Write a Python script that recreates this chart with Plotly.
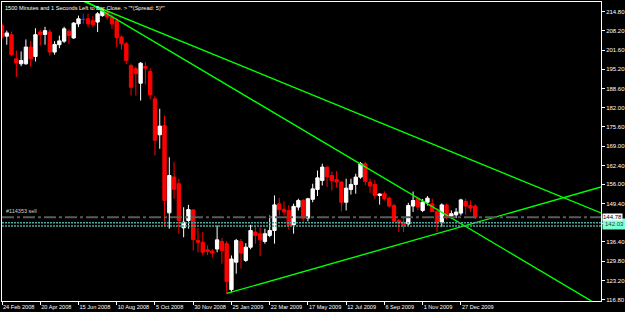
import pandas as pd
import plotly.graph_objects as go

# ---------------- data ----------------
start_week = "2008-02-24"
n_bars = 100
dates = pd.date_range(start_week, periods=n_bars, freq="7D")

opens = [210.0, 206.4, 206.9, 198.7, 197.0, 197.0, 202.7, 199.5, 207.8, 207.0,
         207.8, 201.0, 203.5, 204.7, 208.1, 205.8, 210.6, 212.1, 212.3, 211.7,
         211.2, 213.4, 214.6, 212.9, 211.6, 206.1, 203.8, 196.4, 195.3, 190.4,
         196.1, 194.4, 185.1, 172.85, 176.0, 146.3, 158.5, 156.2, 141.2, 143.7,
         147.3, 136.9, 136.3, 133.7, 133.3, 134.0, 136.55, 135.8, 120.2, 129.5,
         136.55, 130.1, 134.6, 139.75, 139.2, 136.55, 138.6, 140.3, 149.4, 147.5,
         147.1, 142.2, 148.25, 150.5, 144.5, 150.9, 154.25, 157.3, 161.85, 159.0,
         157.65, 156.75, 149.9, 154.25, 155.95, 158.45, 163.0, 156.75, 155.95, 152.2,
         152.8, 151.3, 148.8, 143.7, 143.15, 142.55, 148.6, 151.1, 147.1, 149.9,
         149.35, 146.75, 143.15, 149.0, 145.2, 145.6, 146.2, 150.2, 148.8, 148.6]
highs = [210.8, 208.3, 208.0, 201.5, 201.2, 205.3, 204.8, 209.1, 208.7, 209.6,
         208.7, 204.7, 206.6, 209.6, 208.8, 211.2, 213.4, 214.0, 214.0, 213.2,
         214.6, 215.7, 215.7, 214.0, 212.7, 206.6, 204.5, 197.0, 196.0, 197.6,
         197.6, 195.5, 186.0, 181.7, 179.4, 165.2, 163.5, 157.9, 148.2, 149.0,
         147.6, 141.1, 139.75, 135.2, 134.0, 142.0, 137.7, 136.7, 131.8, 137.4,
         137.4, 136.0, 142.2, 141.9, 141.4, 140.9, 145.4, 152.2, 151.4, 150.2,
         148.9, 149.4, 151.1, 151.0, 151.4, 156.2, 160.7, 163.0, 162.1, 160.3,
         160.5, 157.1, 157.9, 157.9, 159.6, 163.6, 163.6, 157.9, 157.4, 152.9,
         153.6, 151.8, 149.4, 144.2, 144.5, 149.7, 153.55, 151.4, 151.0, 152.0,
         151.1, 147.9, 149.5, 149.5, 147.1, 147.9, 151.1, 151.1, 150.5, 149.2]
lows = [205.5, 203.5, 199.6, 192.5, 196.2, 196.7, 196.0, 197.8, 203.2, 203.5,
        199.8, 200.1, 202.3, 204.1, 203.8, 205.5, 209.5, 210.6, 209.5, 209.5,
        207.8, 213.0, 212.0, 208.9, 202.7, 201.9, 196.9, 186.2, 186.2, 184.5,
        190.0, 184.9, 165.8, 168.1, 142.0, 140.9, 151.1, 139.2, 138.0, 140.9,
        133.5, 132.9, 131.9, 131.9, 131.1, 132.9, 129.0, 118.85, 119.3, 125.6,
        127.3, 129.6, 133.9, 135.8, 131.6, 135.8, 138.0, 135.8, 145.4, 145.4,
        140.65, 139.2, 147.1, 143.2, 143.4, 149.9, 152.0, 155.6, 155.05, 153.9,
        154.9, 146.75, 147.1, 152.5, 152.8, 157.9, 155.7, 153.1, 151.1, 149.1,
        150.5, 148.1, 143.15, 139.75, 139.75, 141.9, 146.6, 147.2, 146.55, 148.8,
        146.6, 139.75, 141.45, 144.1, 144.3, 144.5, 145.4, 145.6, 146.6, 144.2]
closes = [206.1, 207.5, 200.1, 197.3, 198.1, 202.7, 198.7, 206.9, 207.0, 208.3,
          201.0, 203.6, 204.8, 208.9, 206.6, 210.85, 212.3, 212.1, 210.6, 210.3,
          214.0, 215.1, 212.9, 210.6, 205.85, 203.8, 198.1, 189.0, 193.6, 197.2,
          195.5, 186.5, 171.0, 175.8, 150.5, 159.0, 154.3, 143.7, 143.1, 147.4,
          137.2, 136.3, 132.9, 133.1, 132.6, 137.1, 133.5, 122.9, 130.6, 136.9,
          132.6, 134.6, 140.3, 138.6, 137.1, 139.2, 140.3, 149.0, 147.4, 146.6,
          142.2, 148.5, 150.5, 144.5, 151.1, 154.45, 158.2, 161.85, 158.5, 157.3,
          156.75, 149.9, 154.7, 155.95, 158.45, 163.0, 156.95, 155.4, 152.2, 152.7,
          151.1, 148.6, 143.4, 142.9, 142.2, 148.8, 150.5, 148.25, 149.95, 151.3,
          146.75, 142.9, 149.0, 145.2, 146.0, 146.55, 150.7, 148.6, 147.9, 144.78]

tick_dates = ["2008-02-24", "2008-04-20", "2008-06-15", "2008-08-10", "2008-10-05",
              "2008-11-30", "2009-01-25", "2009-03-22", "2009-05-17", "2009-07-12",
              "2009-09-06", "2009-11-01", "2009-12-27"]
tick_labels = ["24 Feb 2008", "20 Apr 2008", "15 Jun 2008", "10 Aug 2008", "5 Oct 2008",
               "30 Nov 2008", "25 Jan 2009", "22 Mar 2009", "17 May 2009", "12 Jul 2009",
               "6 Sep 2009", "1 Nov 2009", "27 Dec 2009"]
price_ticks = [214.80, 208.20, 201.60, 195.20, 188.60, 182.00, 175.60, 169.00,
               162.40, 156.00, 149.40, 142.80, 136.40, 129.80, 123.20, 116.80]
# 142.80 sits under the price-tag boxes at the right edge, so its text is not shown
price_labels = ["214.80", "208.20", "201.60", "195.20", "188.60", "182.00", "175.60", "169.00",
                "162.40", "156.00", "149.40", "", "136.40", "129.80", "123.20", "116.80"]

# trend lines (anchor week index, price)
trend_start_week = [17.15, 17.15, 47.0]
trend_start_price = [218.2, 218.68, 118.87]
trend_end_week = [125.31, 125.31, 125.31]
trend_end_price = [146.27, 114.36, 155.09]

order_price = 144.78
order_label = "#114353 sell"
dotted_levels = [142.94, 141.82]
bid_label = "144.78"
ask_label = "142.03"
title_text = '1500 Minutes and 1 Seconds Left to Bar Close. > "*(Spread: 5)*"'

visible_weeks = 125.31
y_range = [116.30, 218.03]

# ---------------- figure ----------------
t0 = pd.Timestamp(start_week)
def wk(w):
    return t0 + pd.Timedelta(days=7 * w)

main_idx = [k for k in range(n_bars) if opens[k] != closes[k]]
doji_idx = [k for k in range(n_bars) if opens[k] == closes[k]]

fig = go.Figure()
fig.add_trace(go.Candlestick(
    x=[dates[k] for k in main_idx],
    open=[opens[k] for k in main_idx], high=[highs[k] for k in main_idx],
    low=[lows[k] for k in main_idx], close=[closes[k] for k in main_idx],
    increasing=dict(line=dict(color="#FFFFFF", width=1), fillcolor="#FFFFFF"),
    decreasing=dict(line=dict(color="#FF0000", width=1), fillcolor="#FF0000"),
    whiskerwidth=0, showlegend=False, hoverinfo="skip"))
fig.add_trace(go.Candlestick(
    x=[dates[k] for k in doji_idx],
    open=[opens[k] for k in doji_idx], high=[highs[k] for k in doji_idx],
    low=[lows[k] for k in doji_idx], close=[closes[k] for k in doji_idx],
    increasing=dict(line=dict(color="#1E3CFF", width=1), fillcolor="#1E3CFF"),
    decreasing=dict(line=dict(color="#1E3CFF", width=1), fillcolor="#1E3CFF"),
    whiskerwidth=0, showlegend=False, hoverinfo="skip"))

for s_w, s_p, e_w, e_p in zip(trend_start_week, trend_start_price, trend_end_week, trend_end_price):
    fig.add_trace(go.Scatter(x=[wk(s_w), wk(e_w)], y=[s_p, e_p], mode="lines",
                             line=dict(color="#00FF00", width=1.4),
                             showlegend=False, hoverinfo="skip"))

fig.add_hline(y=order_price, line=dict(color="#5A5A5A", width=2, dash="12px,3px,3px,3px"))
for lv in dotted_levels:
    fig.add_hline(y=lv, line=dict(color="#4FA89E", width=1.5, dash="2px,1px"))

font_fam = "Liberation Sans, Arial, sans-serif"

fig.add_annotation(text=title_text, xref="paper", yref="paper", x=0, y=1,
                   xanchor="left", yanchor="top", xshift=1, yshift=-1, showarrow=False,
                   font=dict(family=font_fam, size=5.6, color="#FFFFFF"))
fig.add_annotation(text=order_label, xref="paper", yref="y", x=0, y=order_price,
                   xanchor="left", yanchor="bottom", xshift=2, yshift=1, showarrow=False,
                   font=dict(family=font_fam, size=5.5, color="#D0D0D0"))
fig.add_annotation(text=ask_label, xref="paper", yref="y", x=1, y=dotted_levels[0] - 0.4,
                   xanchor="left", yanchor="middle", xshift=1, showarrow=False,
                   bgcolor="#7FFFD4", borderpad=2,
                   font=dict(family=font_fam, size=6, color="#1A4A44"))
fig.add_annotation(text=bid_label, xref="paper", yref="y", x=1, y=order_price,
                   xanchor="left", yanchor="middle", xshift=1, showarrow=False,
                   bgcolor="#FFFFFF", borderpad=0,
                   font=dict(family=font_fam, size=6, color="#000000"))

fig.update_layout(
    width=625, height=312,
    margin=dict(l=2, r=24, t=2, b=11, autoexpand=False),
    paper_bgcolor="#000000", plot_bgcolor="#000000",
    boxgap=0.3, boxgroupgap=0,
    xaxis=dict(
        type="date", range=[wk(0), wk(visible_weeks)],
        rangeslider=dict(visible=False), automargin=False,
        tickvals=tick_dates, ticktext=tick_labels, tickangle=0,
        ticks="outside", ticklen=3, tickcolor="#FFFFFF",
        ticklabelposition="outside right", ticklabelstandoff=0,
        tickfont=dict(family=font_fam, size=5.6, color="#FFFFFF"),
        showgrid=False, zeroline=False,
        showline=True, linecolor="#FFFFFF", linewidth=1, mirror=True),
    yaxis=dict(
        side="right", range=y_range, automargin=False,
        tickvals=price_ticks, ticktext=price_labels,
        ticks="outside", ticklen=3, tickcolor="#FFFFFF",
        tickfont=dict(family=font_fam, size=6, color="#FFFFFF"),
        showgrid=False, zeroline=False,
        showline=True, linecolor="#FFFFFF", linewidth=1, mirror=True),
)

fig.write_html("out.html")
